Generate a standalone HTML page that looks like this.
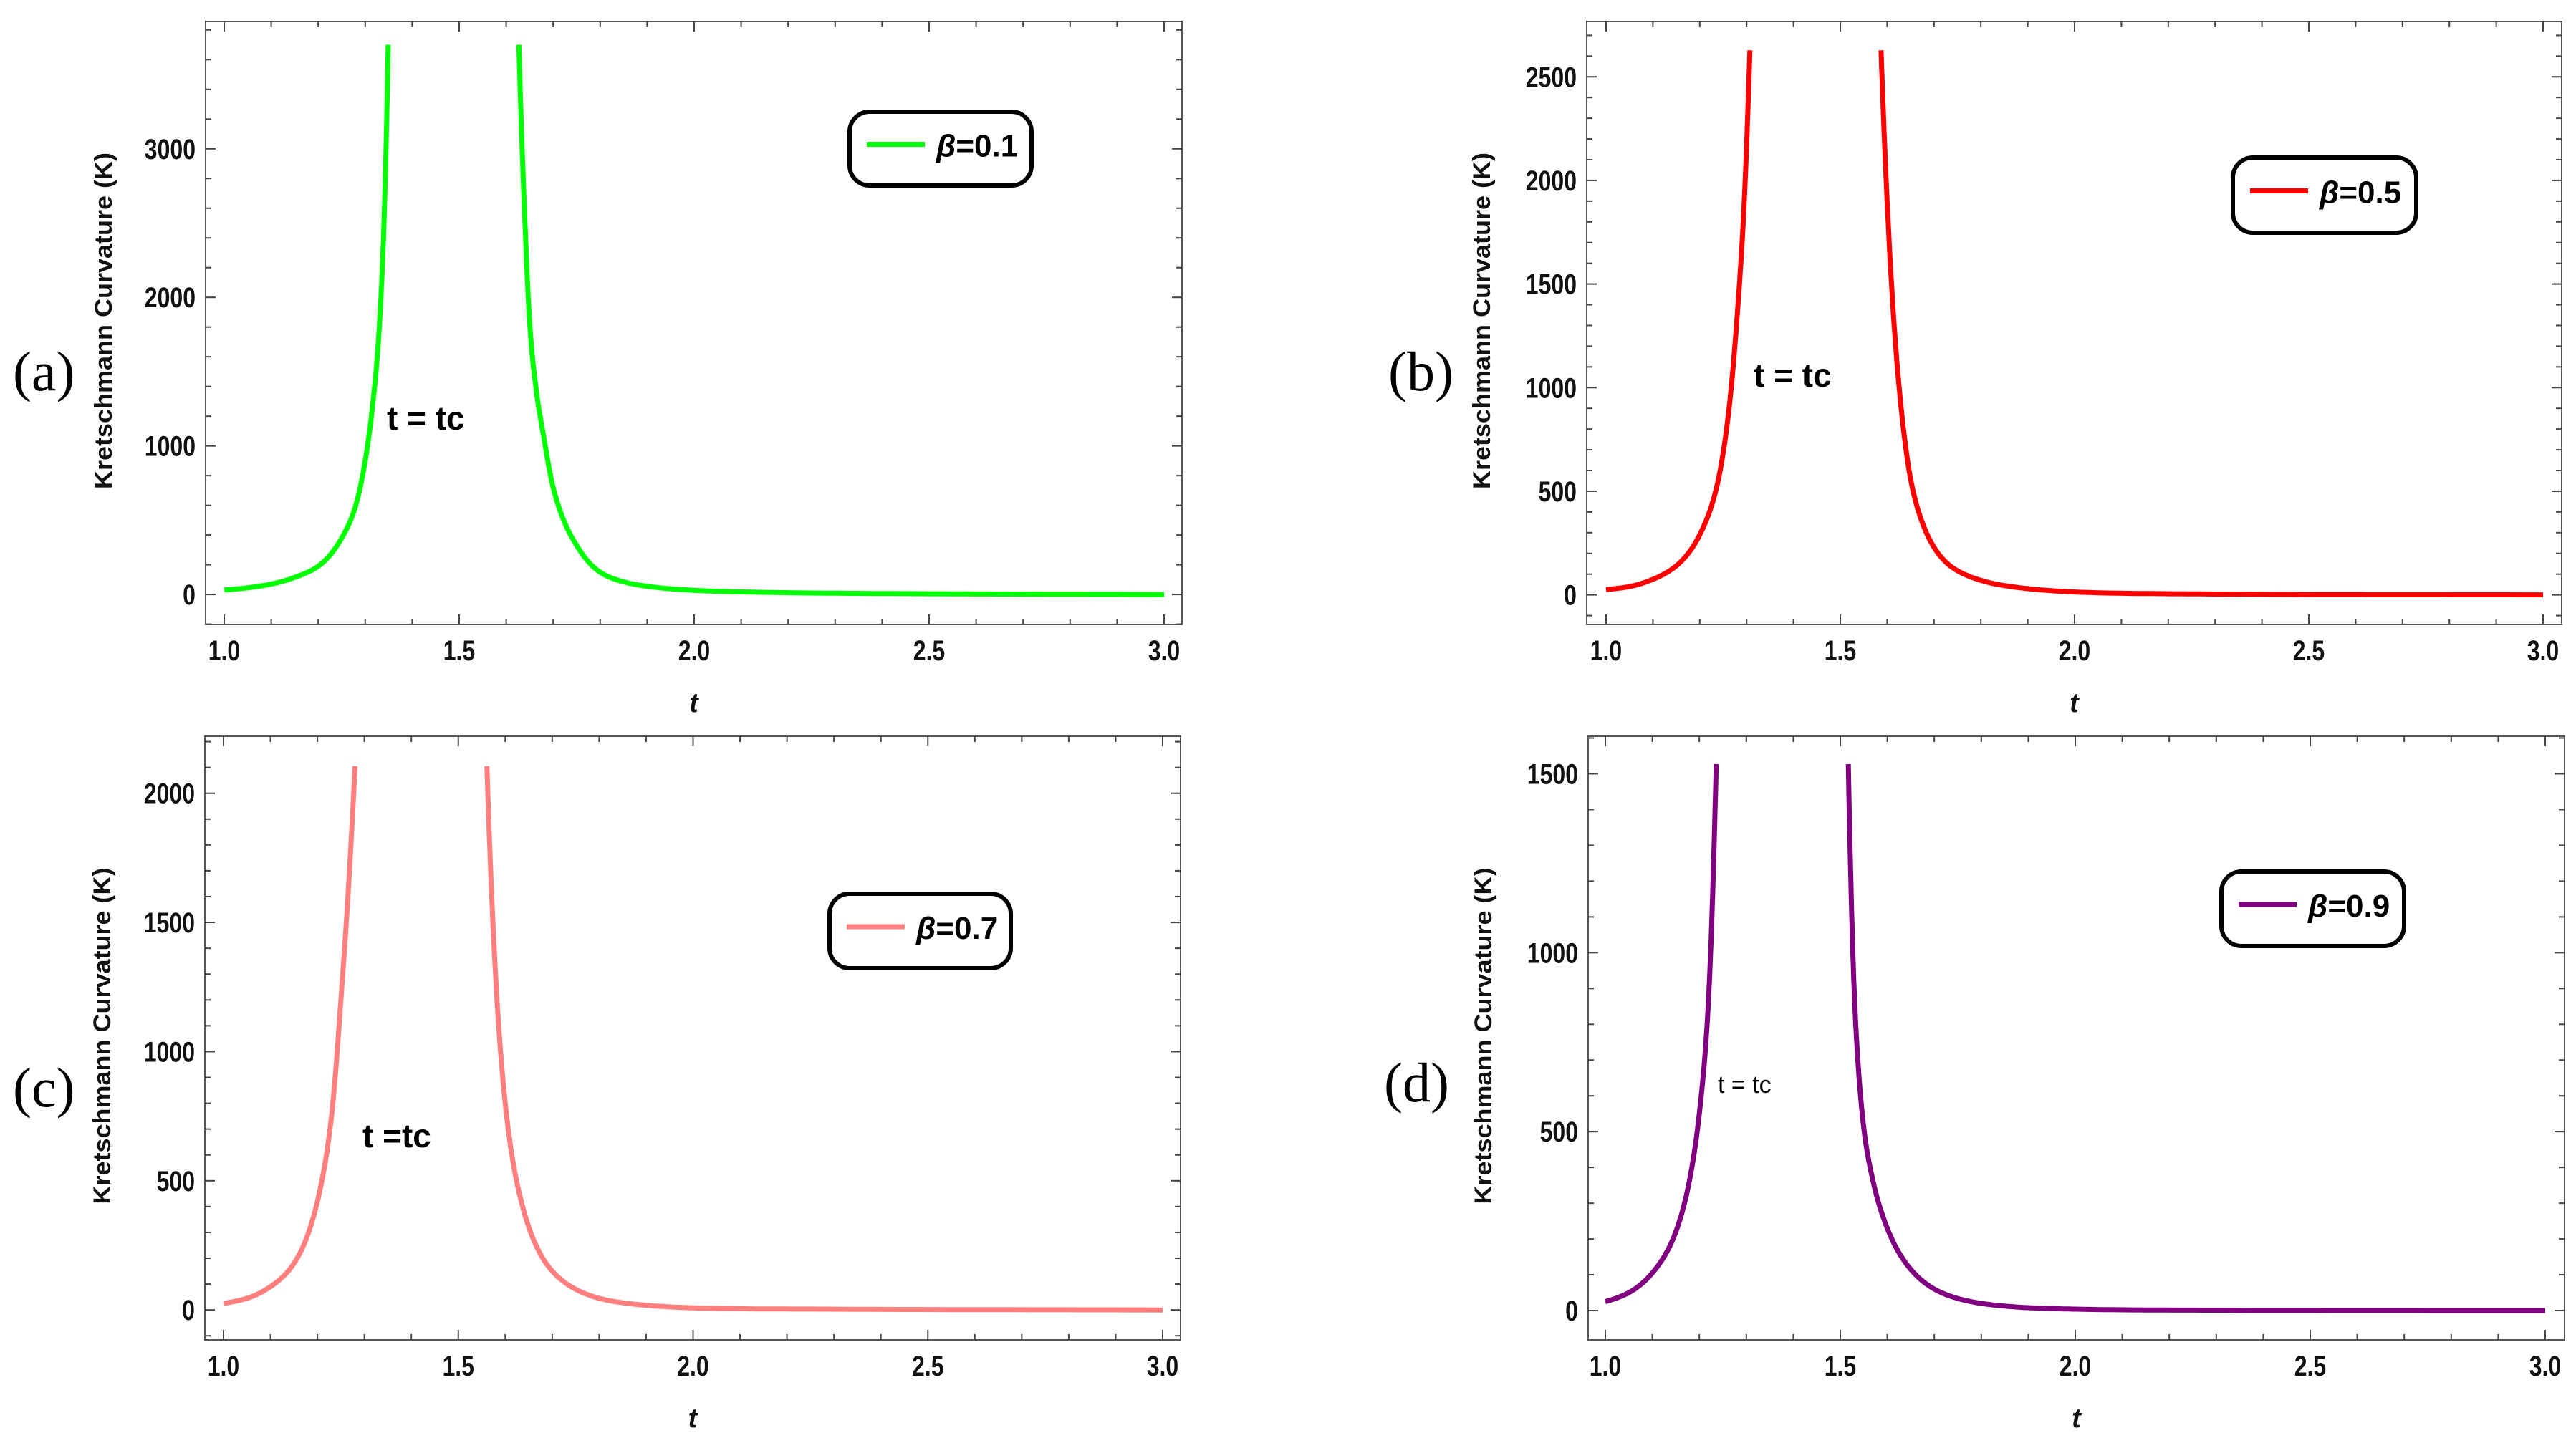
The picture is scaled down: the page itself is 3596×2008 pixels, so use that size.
<!DOCTYPE html>
<html><head><meta charset="utf-8">
<style>
html,body{margin:0;padding:0;background:#fff;}
svg{display:block;font-family:"Liberation Sans",sans-serif;}
</style></head>
<body>
<svg id="fig" width="3596" height="2008" viewBox="0 0 3596 2008" xmlns="http://www.w3.org/2000/svg"></svg>
<script>
// ---- data ----
const tA = [1.0,1.05,1.1,1.15,1.2,1.25,1.28,1.3,1.315,1.33,1.34,1.349, null, 1.627,1.64,1.65,1.665,1.68,1.7,1.725,1.75,1.775,1.8,1.85,1.9,2.0,2.2,2.5,3.0];
const kA = [30,45,70,115,190,380,600,900,1250,1800,2500,3700, null, 3700,2500,1830,1350,1060,720,480,330,220,150,85,55,28,12,5,0];
const tB = [1.0,1.05,1.1,1.15,1.2,1.24,1.26,1.28,1.295,1.307, null, 1.587,1.6,1.615,1.63,1.65,1.68,1.72,1.8,1.9,2.0,2.3,3.0];
const kB = [25,40,75,140,290,560,850,1350,1900,2628, null, 2628,1900,1300,900,560,320,170,70,30,14,4,0];
const tC = [1.0,1.05,1.1,1.15,1.2,1.23,1.25,1.265,1.28, null, 1.561,1.575,1.59,1.61,1.64,1.68,1.75,1.8,1.9,2.0,2.3,3.0];
const kC = [25,45,90,180,420,750,1200,1600,2105, null, 2105,1450,1000,650,380,200,80,45,18,8,3,0];
const tD = [1.0,1.05,1.1,1.15,1.18,1.2,1.22,1.236, null, 1.517,1.53,1.54,1.55,1.57,1.6,1.65,1.7,1.8,1.9,2.0,2.3,3.0];
const kD = [25,50,105,220,370,550,880,1527, null, 1527,880,650,510,360,230,115,60,20,8,4,1,0];
const xTickLabels = ["1.0","1.5","2.0","2.5","3.0"];
const yTicksA = [0,1000,2000,3000];
const yTicksB = [0,500,1000,1500,2000,2500];
const yTicksC = [0,500,1000,1500,2000];
const yTicksD = [0,500,1000,1500];

const NS="http://www.w3.org/2000/svg";
const svg=document.getElementById('fig');
function mk(tag,attrs,parent){const e=document.createElementNS(NS,tag);for(const k in attrs)e.setAttribute(k,attrs[k]);(parent||svg).appendChild(e);return e;}

function smooth(ts,ks){
  const n=ts.length, ys=ks.map(v=>Math.log(v+10));
  const dx=[],m=[],s=[];
  for(let i=0;i<n-1;i++){dx.push(ts[i+1]-ts[i]);s.push((ys[i+1]-ys[i])/dx[i]);}
  m[0]=s[0];m[n-1]=s[n-2];
  for(let i=1;i<n-1;i++){m[i]=(s[i-1]*s[i]<=0)?0:(s[i-1]*dx[i]+s[i]*dx[i-1])/(dx[i]+dx[i-1]);}
  for(let i=0;i<n-1;i++){if(s[i]===0){m[i]=m[i+1]=0;continue;}const a=m[i]/s[i],b=m[i+1]/s[i],h=a*a+b*b;if(h>9){const tt=3/Math.sqrt(h);m[i]=tt*a*s[i];m[i+1]=tt*b*s[i];}}
  const out=[];
  for(let i=0;i<n-1;i++){
    const N=20;
    for(let j=0;j<N;j++){const u=j/N,h=dx[i];
      const h00=2*u*u*u-3*u*u+1,h10=u*u*u-2*u*u+u,h01=-2*u*u*u+3*u*u,h11=u*u*u-u*u;
      const y=h00*ys[i]+h10*h*m[i]+h01*ys[i+1]+h11*h*m[i+1];
      out.push([ts[i]+u*h,Math.exp(y)-10]);}
  }
  out.push([ts[n-1],ks[n-1]]);
  return out;
}

const panels=[
 {id:'a',L:287,R:1650,T:30,B:872,yMin:-202,yMax:3857,x1:313,x2:1625,t:tA,k:kA,ticks:yTicksA,minor:200,color:'#00ff00',beta:'0.1',
  leg:[1183,153,1443,262],lab:[18,545],ann:['t = tc',540,600,46,'bold'],title:144},
 {id:'b',L:2215,R:3576,T:30,B:872,yMin:-143,yMax:2767,x1:2242,x2:3550,t:tB,k:kB,ticks:yTicksB,minor:100,color:'#ff0000',beta:'0.5',
  leg:[3114,217,3376,328],lab:[1938,545],ann:['t = tc',2448,540,46,'bold'],title:2068},
 {id:'c',L:286,R:1648,T:1028,B:1871,yMin:-116,yMax:2221,x1:312,x2:1623,t:tC,k:kC,ticks:yTicksC,minor:100,color:'#ff7f7f',beta:'0.7',
  leg:[1155,1245,1414,1355],lab:[18,1545],ann:['t =tc',506,1602,46,'bold'],title:142},
 {id:'d',L:2217,R:3580,T:1028,B:1871,yMin:-82,yMax:1605,x1:2241,x2:3553,t:tD,k:kD,ticks:yTicksD,minor:100,color:'#800080',beta:'0.9',
  leg:[3098,1214,3359,1324],lab:[1932,1538],ann:['t = tc',2398,1526,34,'normal'],title:2070}
];

panels.forEach(p=>{
  const g=mk('g',{});
  
  
  const X=t=>p.x1+(t-1)*(p.x2-p.x1)/2;
  const Y=v=>p.B-(v-p.yMin)*(p.B-p.T)/(p.yMax-p.yMin);
  const fr=mk('rect',{x:p.L,y:p.T,width:p.R-p.L,height:p.B-p.T,fill:'none',stroke:'#555',"stroke-width":2},g);
  
  
  for(let i=0;i<=20;i++){
    const t=1+i*0.1, x=X(t), maj=(i%5===0), len=maj?14:8;
    mk('line',{x1:x,y1:p.B,x2:x,y2:p.B-len,stroke:'#444',"stroke-width":2},g);
    mk('line',{x1:x,y1:p.T,x2:x,y2:p.T+len,stroke:'#444',"stroke-width":2},g);
  }
  xTickLabels.forEach((s,i)=>{
    const cx=X(1+i*0.5);
    const tx=mk('text',{x:cx,y:p.B+50,"font-size":40,"font-weight":"bold","text-anchor":"middle",fill:'#111',transform:`translate(${cx},0) scale(0.8,1) translate(${-cx},0)`},g);
    tx.textContent=s;
    
    
  });
  for(let v=Math.ceil(p.yMin/p.minor)*p.minor; v<=p.yMax; v+=p.minor){
    const y=Y(v), maj=(p.ticks.indexOf(v)>=0), len=maj?14:8;
    mk('line',{x1:p.L,y1:y,x2:p.L+len,y2:y,stroke:'#444',"stroke-width":2},g);
    mk('line',{x1:p.R,y1:y,x2:p.R-len,y2:y,stroke:'#444',"stroke-width":2},g);
  }
  p.ticks.forEach(v=>{
    const ax=p.L-14;
    const tx=mk('text',{x:ax,y:Y(v)+14,"font-size":40,"font-weight":"bold","text-anchor":"end",fill:'#111',transform:`translate(${ax},0) scale(0.8,1) translate(${-ax},0)`},g);
    tx.textContent=String(v);
    
    
  });
  const yt=mk('text',{x:0,y:0,"font-size":34,"font-weight":"bold","text-anchor":"middle",textLength:470,lengthAdjust:"spacingAndGlyphs",fill:'#111',transform:`translate(${p.title+12},${(p.T+p.B)/2-3}) rotate(-90)`},g);
  yt.textContent='Kretschmann Curvature (K)';
  
  
  const xt=mk('text',{x:(p.L+p.R)/2,y:p.B+122,"font-size":38,"font-weight":"bold","font-style":"italic","text-anchor":"middle",fill:'#111'},g);
  xt.textContent='t';
  
  
  let bt=[],bk=[],branches=[];
  for(let i=0;i<=p.t.length;i++){
    if(i===p.t.length||p.t[i]===null){if(bt.length)branches.push([bt,bk]);bt=[];bk=[];continue;}
    bt.push(p.t[i]);bk.push(p.k[i]);
  }
  let d='';
  branches.forEach(([ts,ks])=>{
    smooth(ts,ks).forEach((pt,j)=>{d+=(j?'L':'M')+X(pt[0]).toFixed(1)+' '+Y(pt[1]).toFixed(1)+' ';});
  });
  const cv=mk('path',{d:d,fill:'none',stroke:p.color,"stroke-width":7,"stroke-linejoin":'round',"stroke-linecap":'butt'},g);
  
  
  const [lx1,ly1,lx2,ly2]=p.leg;
  const lg=mk('g',{},g);
  
  
  mk('rect',{x:lx1+3,y:ly1+3,width:lx2-lx1-6,height:ly2-ly1-6,rx:28,ry:28,fill:'#fff',stroke:'#000',"stroke-width":6},lg);
  const ly=(ly1+ly2)/2-6;
  mk('line',{x1:lx1+27,y1:ly,x2:lx1+108,y2:ly,stroke:p.color,"stroke-width":7},lg);
  const lt=mk('text',{x:lx1+124,y:ly+17,"font-size":44,"font-weight":"bold",fill:'#000'},lg);
  const b=mk('tspan',{"font-style":"italic"},lt); b.textContent='β';
  const r=mk('tspan',{},lt); r.textContent='=0.'+p.beta.split('.')[1];
  
  
  const pl=mk('text',{x:p.lab[0],y:p.lab[1],"font-size":78,"font-family":"Liberation Serif, serif",fill:'#000'},g);
  pl.textContent='('+p.id+')';
  
  
  const an=mk('text',{x:p.ann[1],y:p.ann[2],"font-size":p.ann[3],"font-weight":p.ann[4],fill:'#000'},g);
  an.textContent=p.ann[0];
  
  
});
</script>
</body></html>
